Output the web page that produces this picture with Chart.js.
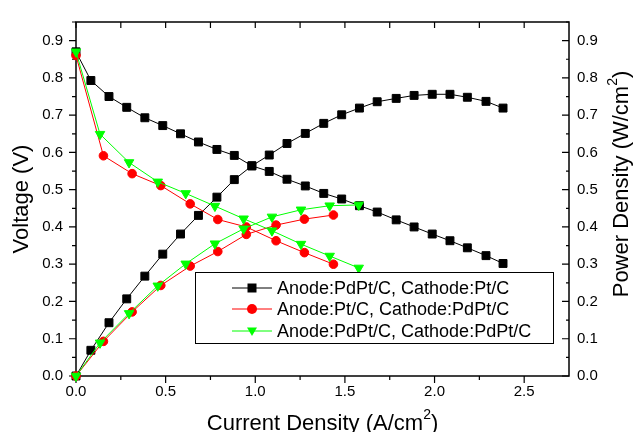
<!DOCTYPE html>
<html>
<head>
<meta charset="utf-8">
<script src="https://cdn.jsdelivr.net/npm/chart.js@4.4.1/dist/chart.umd.min.js"></script>
<style>
  html, body { margin: 0; padding: 0; background: #fff; }
  #wrap { width: 636px; height: 432px; }
</style>
</head>
<body>
<div id="wrap"><canvas id="graph" width="636" height="432"></canvas></div>
<script>
// tick labels
const xTicks = [0, 0.5, 1.0, 1.5, 2.0, 2.5];
const yTicks = [0, 0.1, 0.2, 0.3, 0.4, 0.5, 0.6, 0.7, 0.8, 0.9];

const legendNames = [
    'Anode:PdPt/C, Cathode:Pt/C',
    'Anode:Pt/C, Cathode:PdPt/C',
    'Anode:PdPt/C, Cathode:PdPt/C'
];

// Anode:PdPt/C, Cathode:Pt/C
const blackCurrent = [0, 0.083, 0.184, 0.283, 0.384, 0.484, 0.583, 0.683, 0.786, 0.883, 0.981, 1.078, 1.177,
    1.279, 1.382, 1.482, 1.581, 1.680, 1.786, 1.886, 1.987, 2.086, 2.183, 2.287, 2.382];
const blackVoltage = [0.87, 0.793, 0.750, 0.721, 0.693, 0.672, 0.650, 0.628, 0.608, 0.592, 0.564, 0.549, 0.528,
    0.510, 0.490, 0.475, 0.457, 0.440, 0.419, 0.400, 0.381, 0.363, 0.344, 0.323, 0.302];
const blackPower = [0, 0.069, 0.143, 0.207, 0.268, 0.327, 0.381, 0.431, 0.480, 0.527, 0.564, 0.593, 0.624,
    0.651, 0.678, 0.701, 0.719, 0.736, 0.745, 0.753, 0.756, 0.756, 0.748, 0.737, 0.719];

// Anode:Pt/C, Cathode:PdPt/C
const redCurrent = [0, 0.153, 0.313, 0.473, 0.637, 0.791, 0.950, 1.116, 1.274, 1.436];
const redVoltage = [0.86, 0.591, 0.543, 0.511, 0.462, 0.420, 0.400, 0.363, 0.331, 0.300];
const redPower = [0, 0.093, 0.172, 0.243, 0.295, 0.334, 0.380, 0.405, 0.421, 0.432];

// Anode:PdPt/C, Cathode:PdPt/C
const greenCurrent = [0, 0.134, 0.296, 0.456, 0.612, 0.775, 0.935, 1.093, 1.255, 1.415, 1.577];
const greenVoltage = [0.87, 0.649, 0.573, 0.521, 0.490, 0.456, 0.422, 0.390, 0.354, 0.322, 0.290];
const greenPower = [0, 0.089, 0.168, 0.242, 0.301, 0.355, 0.395, 0.427, 0.446, 0.457, 0.459];

const FONT = "'Liberation Sans', Arial, Helvetica, sans-serif";
Chart.defaults.font.family = FONT;
Chart.defaults.color = '#000';

function pts(xs, ys) {
    return xs.map((x, i) => ({ x: x, y: ys[i] }));
}

function series(xs, ys, axis, color, style, radius, rot) {
    return {
        data: pts(xs, ys),
        yAxisID: axis,
        borderColor: color,
        backgroundColor: color,
        borderWidth: 1,
        pointStyle: style,
        pointRadius: radius,
        pointRotation: rot,
        pointBorderWidth: 1,
        pointBorderColor: color,
        pointBackgroundColor: color,
        tension: 0,
        clip: false
    };
}

const datasets = [
    series(greenCurrent, greenVoltage, 'y', '#00ff00', 'triangle', 5.5, 180),
    series(greenCurrent, greenPower, 'y2', '#00ff00', 'triangle', 5.5, 180),
    series(redCurrent, redVoltage, 'y', '#ff0000', 'circle', 4.3, 0),
    series(redCurrent, redPower, 'y2', '#ff0000', 'circle', 4.3, 0),
    series(blackCurrent, blackVoltage, 'y', '#000000', 'rect', 5.6, 0),
    series(blackCurrent, blackPower, 'y2', '#000000', 'rect', 5.6, 0)
];

// frame and tick marks (majors + minors)
const axesFrame = {
    id: 'axesFrame',
    beforeDatasetsDraw(chart) {
        const { ctx, chartArea: a, scales } = chart;
        ctx.save();
        ctx.strokeStyle = '#000';
        ctx.lineWidth = 1.5;
        ctx.strokeRect(a.left, a.top, a.right - a.left, a.bottom - a.top);
        ctx.lineWidth = 1.2;
        ctx.beginPath();
        for (let i = 0; i <= 10; i++) {
            const px = scales.x.getPixelForValue(i * 0.25);
            const len = i % 2 === 0 ? 7 : 4;
            ctx.moveTo(px, a.bottom);
            ctx.lineTo(px, a.bottom + len);
            ctx.moveTo(px, a.top);
            ctx.lineTo(px, a.top + 6);
        }
        for (let i = 0; i <= 19; i++) {
            const py = scales.y.getPixelForValue(i * 0.05);
            const major = i % 2 === 0;
            ctx.moveTo(a.left, py);
            ctx.lineTo(a.left - (major ? 7 : 4), py);
            ctx.moveTo(a.right, py);
            ctx.lineTo(a.right - (major ? 7 : 3), py);
        }
        ctx.stroke();
        ctx.restore();
    }
};

// title with a real superscript "2"
function supTitle(ctx, before, sup, after) {
    const big = '22px ' + FONT, small = '14px ' + FONT;
    ctx.font = big;
    const w1 = ctx.measureText(before).width, w3 = ctx.measureText(after).width;
    ctx.font = small;
    const w2 = ctx.measureText(sup).width;
    let x = -(w1 + w2 + w3) / 2;
    ctx.textAlign = 'left';
    ctx.font = big;
    ctx.fillText(before, x, 0);
    x += w1;
    ctx.font = small;
    ctx.fillText(sup, x, -11);
    x += w2;
    ctx.font = big;
    ctx.fillText(after, x, 0);
}

const axisTitles = {
    id: 'axisTitles',
    afterDraw(chart) {
        const { ctx, chartArea: a } = chart;
        ctx.save();
        ctx.fillStyle = '#000';
        ctx.textBaseline = 'alphabetic';

        ctx.save();
        ctx.translate((a.left + a.right) / 2, 430);
        supTitle(ctx, 'Current Density (A/cm', '2', ')');
        ctx.restore();

        ctx.save();
        ctx.translate(28, (a.top + a.bottom) / 2);
        ctx.rotate(-Math.PI / 2);
        ctx.font = '22px ' + FONT;
        ctx.textAlign = 'center';
        ctx.fillText('Voltage (V)', 0, 0);
        ctx.restore();

        ctx.save();
        ctx.translate(628, 184);
        ctx.rotate(-Math.PI / 2);
        supTitle(ctx, 'Power Density (W/cm', '2', ')');
        ctx.restore();

        ctx.restore();
    }
};

function marker(ctx, style, x, y, color) {
    ctx.fillStyle = color;
    ctx.beginPath();
    if (style === 'rect') {
        ctx.rect(x - 4.5, y - 4.5, 9, 9);
    } else if (style === 'circle') {
        ctx.arc(x, y, 5, 0, Math.PI * 2);
    } else {
        ctx.moveTo(x - 5, y - 3.5);
        ctx.lineTo(x + 5, y - 3.5);
        ctx.lineTo(x, y + 5);
        ctx.closePath();
    }
    ctx.fill();
}

const boxLegend = {
    id: 'boxLegend',
    afterDraw(chart) {
        const ctx = chart.ctx;
        const colors = ['#000000', '#ff0000', '#00ff00'];
        const styles = ['rect', 'circle', 'triangle'];
        const rows = [288, 309, 331];
        ctx.save();
        ctx.fillStyle = '#fff';
        ctx.fillRect(195, 272, 358, 71);
        ctx.strokeStyle = '#000';
        ctx.lineWidth = 1;
        ctx.strokeRect(195.5, 272.5, 358, 71);
        ctx.font = '18px ' + FONT;
        ctx.textBaseline = 'middle';
        legendNames.forEach((name, i) => {
            const y = rows[i];
            ctx.strokeStyle = colors[i];
            ctx.beginPath();
            ctx.moveTo(232, y);
            ctx.lineTo(272, y);
            ctx.stroke();
            marker(ctx, styles[i], 252, y, colors[i]);
            ctx.fillStyle = '#000';
            ctx.fillText(name, 277, y + 1);
        });
        ctx.restore();
    }
};

function fixedTicks(list) {
    return function (scale) {
        scale.ticks = list.map(v => ({ value: v }));
    };
}

const tickFont = { size: 15, family: FONT };

new Chart(document.getElementById('graph').getContext('2d'), {
    type: 'line',
    data: { datasets: datasets },
    options: {
        responsive: false,
        animation: false,
        layout: { padding: { top: 13, left: 0, right: 0, bottom: 0 } },
        plugins: {
            legend: { display: false },
            tooltip: { enabled: false }
        },
        scales: {
            x: {
                type: 'linear',
                position: 'bottom',
                min: 0,
                max: 2.75,
                afterBuildTicks: fixedTicks(xTicks),
                afterFit: s => { s.height = 56; },
                grid: { display: false, drawTicks: false },
                border: { display: false },
                ticks: { font: tickFont, padding: 7, maxRotation: 0, callback: v => v.toFixed(1) }
            },
            y: {
                type: 'linear',
                position: 'left',
                min: 0,
                max: 0.95,
                afterBuildTicks: fixedTicks(yTicks),
                afterFit: s => { s.width = 76; },
                grid: { display: false, drawTicks: false },
                border: { display: false },
                ticks: { font: tickFont, padding: 13, callback: v => v.toFixed(1) }
            },
            y2: {
                type: 'linear',
                position: 'right',
                min: 0,
                max: 0.95,
                afterBuildTicks: fixedTicks(yTicks),
                afterFit: s => { s.width = 67; },
                grid: { display: false, drawTicks: false },
                border: { display: false },
                ticks: { font: tickFont, padding: 8, callback: v => v.toFixed(1) }
            }
        }
    },
    plugins: [axesFrame, boxLegend, axisTitles]
});
</script>
</body>
</html>
